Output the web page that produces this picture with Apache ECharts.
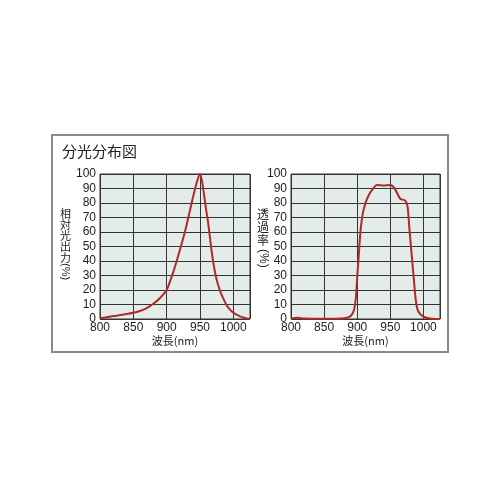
<!DOCTYPE html>
<html>
<head>
<meta charset="utf-8">
<script src="https://cdn.jsdelivr.net/npm/echarts@6/dist/echarts.min.js"></script>
<style>
  html, body { margin: 0; padding: 0; background: #fff; }
  #main { width: 500px; height: 500px; }
</style>
</head>
<body>
<div id="main"></div>
<script>
// 相対光出力 (emission spectrum)
var emitNm = [800, 810, 820, 830, 840, 850, 860, 870, 880, 890, 900, 905, 910, 915, 920, 925, 930, 935, 940, 945, 950,
  953, 956, 959, 962, 965, 968, 971, 975, 980, 985, 990, 995, 1000, 1005, 1010, 1015, 1020, 1025];
var emitVal = [0.5, 1.2, 2, 2.7, 3.4, 4.3, 5.5, 7.5, 10.5, 14.5, 20, 26, 32.5, 40, 48, 56, 65, 75, 85, 94, 100,
  95, 86, 76, 67, 56, 45, 36, 27, 19.5, 14, 9.5, 6.5, 4.4, 3, 1.8, 1, 0.4, 0.1];

// 透過率 (filter transmission)
var transNm = [800, 810, 820, 840, 860, 880, 890, 895, 898, 900, 902.5, 905, 908.5, 912.5, 917.5, 922.5, 930, 940, 950,
  955, 960, 965, 972.5, 976, 979, 982.5, 986, 989, 992.5, 1000, 1010, 1025];
var transVal = [0.3, 0.8, 0.3, 0.2, 0.2, 0.5, 2, 6, 15, 29, 45, 61, 73, 80, 85.5, 89, 92.4, 92, 92.4,
  91, 87, 83, 81.6, 77.5, 61, 43, 24.6, 11, 5, 1.6, 0.3, 0];

var xTicks = [800, 850, 900, 950, 1000];
var yTicks = [0, 10, 20, 30, 40, 50, 60, 70, 80, 90, 100];

function pairs(xs, ys) {
  return xs.map(function (x, i) { return [x, ys[i]]; });
}

var font = 'Liberation Sans, Arial, sans-serif';
var cjk = 'Noto Sans CJK JP, sans-serif';

function xAxisOf(idx) {
  return {
    gridIndex: idx, type: 'value', min: xTicks[0], max: 1025, interval: 50,
    name: '波長(nm)', nameLocation: 'middle', nameGap: 15,
    nameTextStyle: { fontFamily: cjk, fontSize: 11, color: '#222' },
    axisLine: { show: false }, axisTick: { show: false },
    axisLabel: { margin: 3, fontFamily: font, fontSize: 12, color: '#222', showMaxLabel: false,
      formatter: function (v) { return xTicks.indexOf(v) >= 0 ? String(v) : ''; } },
    splitLine: { show: true, lineStyle: { color: '#333', width: 1 } }
  };
}
function yAxisOf(idx) {
  return {
    gridIndex: idx, type: 'value', min: yTicks[0], max: yTicks[yTicks.length - 1], interval: 10,
    axisLine: { show: false }, axisTick: { show: false },
    axisLabel: { margin: 4, fontFamily: font, fontSize: 12, color: '#222',
      formatter: function (v) { return String(v); } },
    splitLine: { show: true, lineStyle: { color: '#333', width: 1 } }
  };
}

var chart = echarts.init(document.getElementById('main'));
chart.setOption({
  animation: false,
  backgroundColor: '#fff',
  grid: [
    { left: 100, top: 174, width: 150, height: 145, show: true, backgroundColor: '#e4ecea', borderColor: '#333', borderWidth: 1 },
    { left: 291, top: 174, width: 149, height: 145, show: true, backgroundColor: '#e4ecea', borderColor: '#333', borderWidth: 1 }
  ],
  xAxis: [xAxisOf(0), xAxisOf(1)],
  yAxis: [yAxisOf(0), yAxisOf(1)],
  graphic: [
    { type: 'rect', shape: { x: 52, y: 135, width: 396, height: 217 }, style: { fill: 'none', stroke: '#8a8a8a', lineWidth: 2 } },
    { type: 'text', left: 62, top: 144, style: { text: '分光分布図', fontFamily: cjk, fontSize: 15, fill: '#222' } },
    // 縦書きの軸名
    { type: 'text', x: 60, y: 208, style: { text: '相\n対\n光\n出\n力', fontFamily: cjk, fontSize: 11, lineHeight: 11, fill: '#222' } },
    { type: 'text', x: 71, y: 263, rotation: -Math.PI / 2, style: { text: '(%)', fontFamily: font, fontSize: 11, fill: '#222' } },
    { type: 'text', x: 257, y: 208, style: { text: '透\n過\n率', fontFamily: cjk, fontSize: 12, lineHeight: 13, fill: '#222' } },
    { type: 'text', x: 269, y: 249, rotation: -Math.PI / 2, style: { text: '(%)', fontFamily: font, fontSize: 12, fill: '#222' } }
  ],
  series: [
    { type: 'line', xAxisIndex: 0, yAxisIndex: 0, data: pairs(emitNm, emitVal), smooth: 0.3, showSymbol: false,
      lineStyle: { color: '#b02a2a', width: 2 } },
    { type: 'line', xAxisIndex: 1, yAxisIndex: 1, data: pairs(transNm, transVal), smooth: 0.3, showSymbol: false,
      lineStyle: { color: '#b02a2a', width: 2 } }
  ]
});
</script>
</body>
</html>
